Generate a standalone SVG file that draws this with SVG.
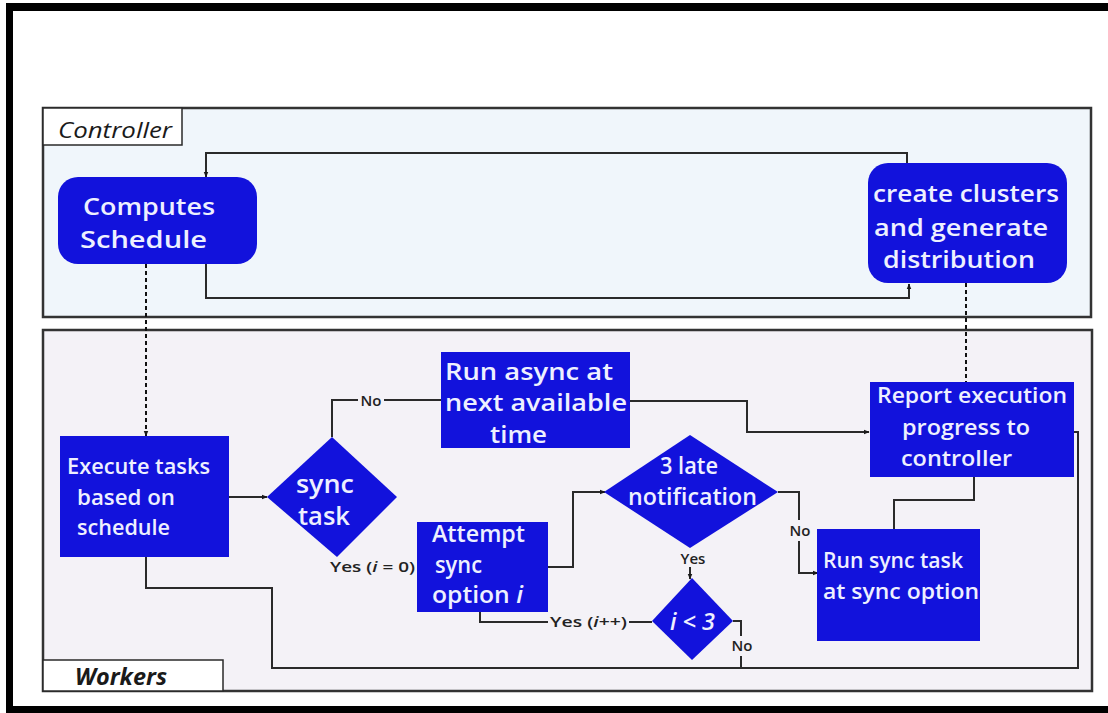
<svg xmlns="http://www.w3.org/2000/svg" width="1108" height="713" viewBox="0 0 1108 713">
<style>
.frame{fill:#000}
.lane{stroke:#333;stroke-width:2.5}
.tag{fill:#fff;stroke:#2a2a2a;stroke-width:1.5}
.tagtxt{font-family:"Open Sans","DejaVu Sans",sans-serif;font-style:italic;fill:#1a1a1a}
.node{fill:#1212dc}
.nt{font-family:"Open Sans","DejaVu Sans",sans-serif;font-weight:600;fill:#eef0ff}
.lbl{font-family:"Open Sans","DejaVu Sans",sans-serif;font-weight:600;font-size:15px;fill:#222}
.ln{fill:none;stroke:#2a2a2a;stroke-width:2}
.dash{fill:none;stroke:#111;stroke-width:2;stroke-dasharray:4 3}
</style>
<defs>
<marker id="arr" viewBox="0 0 10 10" refX="9" refY="5" markerWidth="6" markerHeight="6" orient="auto" markerUnits="userSpaceOnUse">
<path d="M0,1 L10,5 L0,9 z" fill="#1a1a1a"/>
</marker>
</defs>
<rect width="1108" height="713" fill="#fff"/>
<rect class="frame" x="6" y="3" width="1102" height="8"/>
<rect class="frame" x="6" y="3" width="7" height="710"/>
<rect class="frame" x="6" y="706" width="1102" height="7"/>

<g id="lane-controller">
<rect class="lane" x="43" y="108" width="1048" height="209" fill="#f0f6fb"/>
<rect class="tag" x="43" y="108" width="139" height="37"/>
<text class="tagtxt" x="58" y="138" font-size="21" textLength="114" lengthAdjust="spacingAndGlyphs">Controller</text>
</g>
<g id="lane-workers">
<rect class="lane" x="43" y="330" width="1049" height="361" fill="#f4f2f7"/>
<rect class="tag" x="43" y="660" width="180" height="31"/>
<text class="tagtxt" x="75" y="685" font-size="23" font-weight="700" textLength="92" lengthAdjust="spacingAndGlyphs">Workers</text>
</g>

<g id="connectors">
<path class="ln" d="M907,163 V153 H206 V177" marker-end="url(#arr)"/>
<path class="ln" d="M206,264 V298 H909 V284" marker-end="url(#arr)"/>
<path class="dash" d="M146,264 V436" marker-end="url(#arr)"/>
<path class="dash" d="M966,283 V382"/>
<path class="ln" d="M229,497 H267" marker-end="url(#arr)"/>
<path class="ln" d="M332,437 V400 H358"/>
<path class="ln" d="M384,400 H441"/>
<path class="ln" d="M630,401 H747 V432 H869" marker-end="url(#arr)"/>
<path class="ln" d="M548,567 H573 V492 H605" marker-end="url(#arr)"/>
<path class="ln" d="M778,492 H799 V520"/>
<path class="ln" d="M799,541 V573 H818" marker-end="url(#arr)"/>
<path class="ln" d="M690,567 V579" marker-end="url(#arr)"/>
<path class="ln" d="M652,622 H629"/>
<path class="ln" d="M548,622 H480 V612"/>
<path class="ln" d="M733,621 H741 V636"/>
<path class="ln" d="M741,656 V668"/>
<path class="ln" d="M146,557 V588 H272 V668 H1078 V432 H1074"/>
<path class="ln" d="M974,477 V500 H894 V529"/>
<text class="lbl" x="371" y="406" text-anchor="middle">No</text>
<text class="lbl" x="330" y="572" textLength="85" lengthAdjust="spacingAndGlyphs">Yes (<tspan font-style="italic">i</tspan> = 0)</text>
<text class="lbl" x="693" y="564" text-anchor="middle">Yes</text>
<text class="lbl" x="800" y="536" text-anchor="middle">No</text>
<text class="lbl" x="550" y="627" textLength="77" lengthAdjust="spacingAndGlyphs">Yes (<tspan font-style="italic">i</tspan>++)</text>
<text class="lbl" x="742" y="651" text-anchor="middle">No</text>
</g>

<g id="node-computes">
<rect class="node" x="58" y="177" width="199" height="87" rx="20"/>
<text class="nt" font-size="24" x="83" y="215" textLength="132" lengthAdjust="spacingAndGlyphs">Computes</text>
<text class="nt" font-size="24" x="80" y="248" textLength="127" lengthAdjust="spacingAndGlyphs">Schedule</text>
</g>
<g id="node-clusters">
<rect class="node" x="868" y="163" width="199" height="120" rx="20"/>
<text class="nt" font-size="24" x="873" y="202" textLength="186" lengthAdjust="spacingAndGlyphs">create clusters</text>
<text class="nt" font-size="24" x="874" y="236" textLength="174" lengthAdjust="spacingAndGlyphs">and generate</text>
<text class="nt" font-size="24" x="883" y="268" textLength="152" lengthAdjust="spacingAndGlyphs">distribution</text>
</g>
<g id="node-execute">
<rect class="node" x="60" y="436" width="169" height="121"/>
<text class="nt" font-size="22" x="67" y="474" textLength="143" lengthAdjust="spacingAndGlyphs">Execute tasks</text>
<text class="nt" font-size="22" x="77" y="505" textLength="98" lengthAdjust="spacingAndGlyphs">based on</text>
<text class="nt" font-size="22" x="77" y="535" textLength="93" lengthAdjust="spacingAndGlyphs">schedule</text>
</g>
<g id="node-sync">
<polygon class="node" points="332,437 397,497 337,557 267,497"/>
<text class="nt" font-size="25" x="296" y="493" textLength="58" lengthAdjust="spacingAndGlyphs">sync</text>
<text class="nt" font-size="25" x="298" y="525" textLength="52" lengthAdjust="spacingAndGlyphs">task</text>
</g>
<g id="node-async">
<rect class="node" x="441" y="352" width="189" height="96"/>
<text class="nt" font-size="24" x="445" y="380" textLength="168" lengthAdjust="spacingAndGlyphs">Run async at</text>
<text class="nt" font-size="24" x="445" y="411" textLength="182" lengthAdjust="spacingAndGlyphs">next available</text>
<text class="nt" font-size="24" x="490" y="443" textLength="57" lengthAdjust="spacingAndGlyphs">time</text>
</g>
<g id="node-report">
<rect class="node" x="870" y="382" width="204" height="95"/>
<text class="nt" font-size="22" x="877" y="403" textLength="190" lengthAdjust="spacingAndGlyphs">Report execution</text>
<text class="nt" font-size="22" x="902" y="435" textLength="128" lengthAdjust="spacingAndGlyphs">progress to</text>
<text class="nt" font-size="22" x="901" y="466" textLength="111" lengthAdjust="spacingAndGlyphs">controller</text>
</g>
<g id="node-late">
<polygon class="node" points="690,435 778,492 690,548 604,492"/>
<text class="nt" font-size="23" x="660" y="474" textLength="58" lengthAdjust="spacingAndGlyphs">3 late</text>
<text class="nt" font-size="23" x="628" y="505" textLength="129" lengthAdjust="spacingAndGlyphs">notification</text>
</g>
<g id="node-attempt">
<rect class="node" x="417" y="522" width="131" height="90"/>
<text class="nt" font-size="23" x="432" y="542" textLength="93" lengthAdjust="spacingAndGlyphs">Attempt</text>
<text class="nt" font-size="23" x="435" y="573" textLength="47" lengthAdjust="spacingAndGlyphs">sync</text>
<text class="nt" font-size="23" x="432" y="603" textLength="91" lengthAdjust="spacingAndGlyphs">option <tspan font-style="italic">i</tspan></text>
</g>
<g id="node-runsync">
<rect class="node" x="817" y="529" width="163" height="112"/>
<text class="nt" font-size="22" x="823" y="568" textLength="140" lengthAdjust="spacingAndGlyphs">Run sync task</text>
<text class="nt" font-size="22" x="823" y="599" textLength="156" lengthAdjust="spacingAndGlyphs">at sync option</text>
</g>
<g id="node-ilt3">
<polygon class="node" points="692,578 733,621 692,660 652,621"/>
<text class="nt" font-size="24" font-style="italic" font-weight="400" x="670" y="630" textLength="45" lengthAdjust="spacingAndGlyphs" fill="#c8d0ff">i &lt; 3</text>
</g>
</svg>
